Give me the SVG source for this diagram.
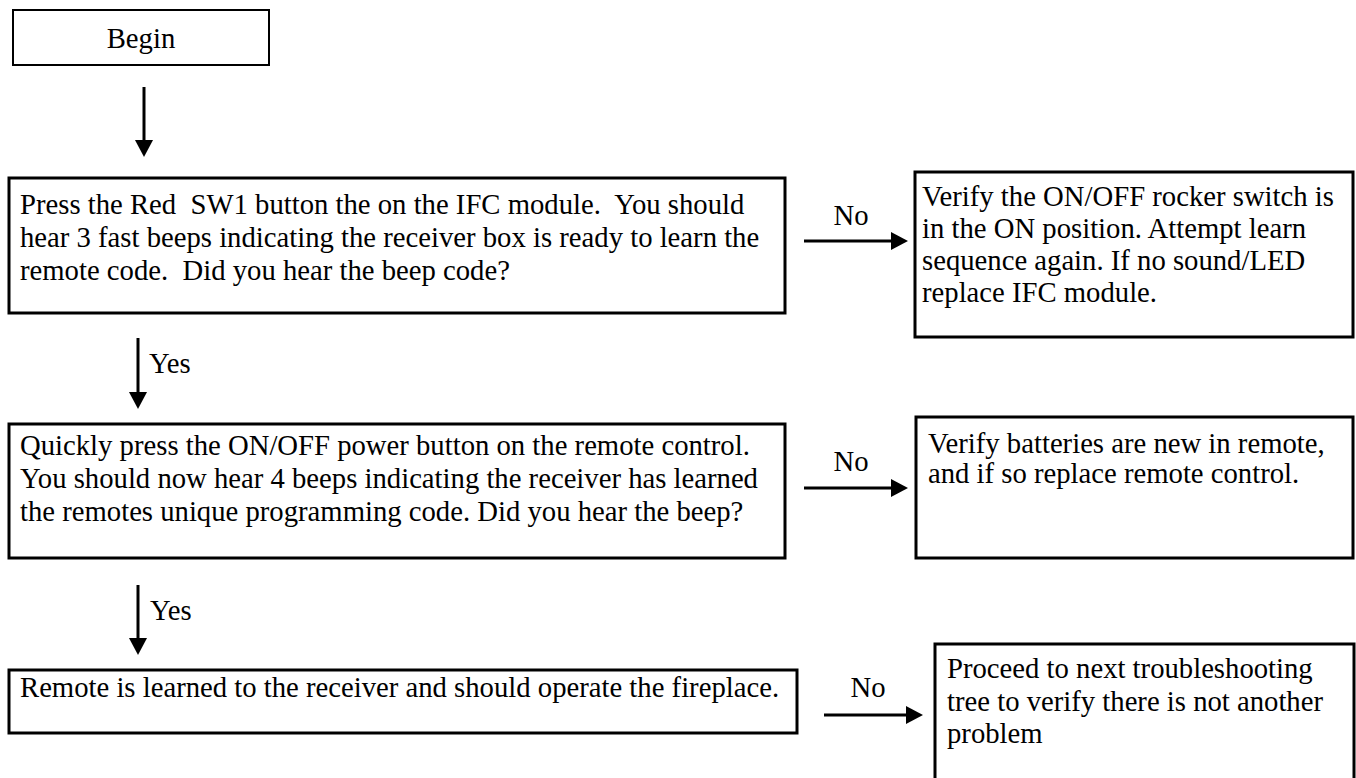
<svg xmlns="http://www.w3.org/2000/svg" width="1356" height="778" viewBox="0 0 1356 778">
<style>
.box{fill:#fff;stroke:#000;stroke-width:3}
.thin{fill:#fff;stroke:#000;stroke-width:2}
text{font-family:"Liberation Serif","Times New Roman",serif;font-size:28.7px;fill:#000}
.c{text-anchor:middle}
.ln{stroke:#000;stroke-width:3;fill:none;marker-end:url(#ah)}
</style>
<defs>
<marker id="ah" viewBox="0 0 17 18" refX="8" refY="9" markerWidth="17" markerHeight="18" markerUnits="userSpaceOnUse" orient="auto">
<path d="M0,0 L17,9 L0,18 z" fill="#000"/>
</marker>
</defs>
<rect width="1356" height="778" fill="#fff"/>
<g id="begin">
<rect class="thin" x="13" y="10" width="256" height="55"/>
<text class="c" x="141" y="48">Begin</text>
</g>
<g id="step1">
<rect class="box" x="9" y="178" width="776" height="135"/>
<text x="20" y="214" xml:space="preserve">Press the Red  SW1 button the on the IFC module.  You should</text>
<text x="20" y="247">hear 3 fast beeps indicating the receiver box is ready to learn the</text>
<text x="20" y="280" xml:space="preserve">remote code.  Did you hear the beep code?</text>
</g>
<g id="fix1">
<rect class="box" x="915" y="172" width="438" height="165"/>
<text x="922" y="206">Verify the ON/OFF rocker switch is</text>
<text x="922" y="238">in the ON position. Attempt learn</text>
<text x="922" y="270">sequence again. If no sound/LED</text>
<text x="922" y="302">replace IFC module.</text>
</g>
<g id="step2">
<rect class="box" x="9" y="424" width="776" height="134"/>
<text x="20" y="455">Quickly press the ON/OFF power button on the remote control.</text>
<text x="20" y="488">You should now hear 4 beeps indicating the receiver has learned</text>
<text x="20" y="521">the remotes unique programming code. Did you hear the beep?</text>
</g>
<g id="fix2">
<rect class="box" x="916" y="417" width="437" height="141"/>
<text x="928" y="453">Verify batteries are new in remote,</text>
<text x="928" y="483">and if so replace remote control.</text>
</g>
<g id="step3">
<rect class="box" x="9" y="670" width="788" height="63"/>
<text x="20" y="697">Remote is learned to the receiver and should operate the fireplace.</text>
</g>
<g id="fix3">
<rect class="box" x="935" y="644" width="419" height="160"/>
<text x="947" y="678">Proceed to next troubleshooting</text>
<text x="947" y="711">tree to verify there is not another</text>
<text x="947" y="743">problem</text>
</g>
<g id="connectors">
<line class="ln" x1="144" y1="87" x2="144" y2="148"/>
<line class="ln" x1="138" y1="338" x2="138" y2="400"/>
<line class="ln" x1="138" y1="585" x2="138" y2="646"/>
<line class="ln" x1="804" y1="241" x2="899" y2="241"/>
<line class="ln" x1="804" y1="488" x2="899" y2="488"/>
<line class="ln" x1="824" y1="715" x2="914" y2="715"/>
<text x="149" y="373">Yes</text>
<text x="150" y="620">Yes</text>
<text class="c" x="851" y="225">No</text>
<text class="c" x="851" y="471">No</text>
<text class="c" x="868" y="697">No</text>
</g>
</svg>
